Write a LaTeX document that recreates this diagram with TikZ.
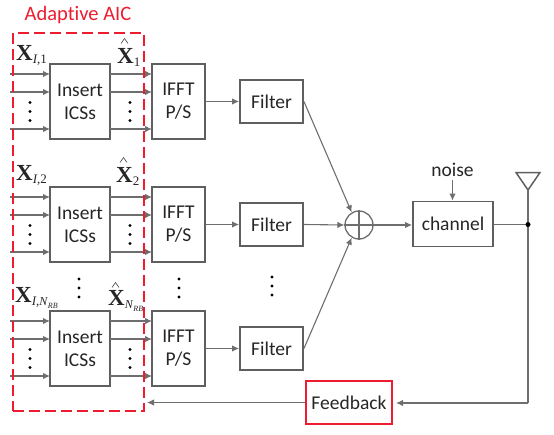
\documentclass[tikz,border=0pt]{standalone}
\usepackage{fontspec}
\setmainfont[Ligatures=NoCommon]{Carlito}
\newfontfamily\lsf{Liberation Serif}
\usetikzlibrary{arrows.meta}
\definecolor{ln}{HTML}{6E6E6E}
\definecolor{bx}{HTML}{5F5F5F}
\definecolor{rd}{HTML}{ED1C2E}
\newcommand{\xb}[1]{{\lsf\fontsize{23}{23}\selectfont\textbf{X}\raisebox{-3pt}{\fontsize{13}{13}\selectfont #1}}}
\newcommand{\nrb}{{\fontsize{12}{12}\selectfont\textit{N}}\raisebox{-3pt}{\fontsize{8}{8}\selectfont\textit{RB}}}
\tikzset{
  x=1pt,y=-1pt,
  every node/.style={font=\fontsize{19.5}{23}\selectfont,text=black!85,inner sep=0pt},
  blk/.style={draw=bx,line width=1.9pt,fill=white,align=center},
  conn/.style={draw=ln,line width=1.1pt},
  arr/.style={conn,-{Latex[length=7pt,width=6.5pt]}},
  thick arr/.style={arr,line width=1.7pt},
  vdots/.style={circle,fill=black,minimum size=3.2pt},
  lbl/.style={anchor=base west},
  hatmark/.style={draw=black!75,line width=0.6pt}
}
\begin{document}
\begin{tikzpicture}
\useasboundingbox (0,0) rectangle (554,434);
% blocks
\foreach \i/\t/\ta/\tb/\tc in {1/64/74/92/129,2/187/197/215/252,3/311/321/339/376}{
  \node[blk,minimum width=60pt,minimum height=75pt] (ins\i) at (80,\t+37.5) {Insert\\ICSs};
  \node[blk,minimum width=53pt,minimum height=75pt] (ifft\i) at (178.5,\t+37.5) {IFFT\\P/S};
  \foreach \n/\y in {a/\ta,b/\tb,c/\tc}{
    \coordinate (in\i\n) at (10,\y);
    \coordinate (ia\i\n) at (50,\y);
    \coordinate (ob\i\n) at (110,\y);
    \coordinate (oe\i\n) at (152,\y);
    \draw[arr] (ob\i\n) -- (oe\i\n);
  }
  \draw[thick arr] (in\i a) -- (ia\i a);
  \draw[arr] (in\i b) -- (ia\i b);
  \draw[arr] (in\i c) -- (ia\i c);
  \foreach \xx in {30,130}{
    \node[vdots] (dt\i\xx a) at (\xx,\t+38.5) {};
    \node[vdots] (dt\i\xx b) at (\xx,\t+47.5) {};
    \node[vdots] (dt\i\xx c) at (\xx,\t+56.5) {};
  }
}
\node[blk,minimum width=63pt,minimum height=43pt] (fil1) at (271.5,101.5) {Filter};
\node[blk,minimum width=63pt,minimum height=43pt] (fil2) at (271.5,224.5) {Filter};
\node[blk,minimum width=63pt,minimum height=43pt] (fil3) at (271.5,348.5) {Filter};
\foreach \i in {1,2,3}{ \draw[arr] (ifft\i.east |- fil\i) -- (fil\i.west); }
% sum
\node[circle,draw=ln,line width=1.3pt,minimum size=28pt] (sum) at (359,225) {};
\draw[ln,line width=1.3pt] (sum.north) -- (sum.south) (sum.west) -- (sum.east);
\draw[arr] (fil1.east) -- (sum.120);
\draw[arr] (fil2.east) -- (sum.west);
\draw[arr] (fil3.east) -- (sum.240);
% channel
\node[blk,minimum width=80pt,minimum height=45pt] (chan) at (453,224) {channel};
\draw[arr] (sum.east) -- (chan.west |- sum);
\node (noise) at (452.5,169.5) {noise};
\coordinate (ntop) at (452.5,180);
\draw[arr] (ntop) -- (chan.north -| ntop);
\coordinate (jun) at (528,224.5);
\draw[draw=ln,line width=1.6pt] (chan.east |- jun) -- (jun);
% antenna
\coordinate (ap) at (528,190);
\coordinate (al) at (516,172.5);
\coordinate (ar) at (540,172.5);
\draw[bx,line width=1.5pt] (al) -- (ar) -- (ap) -- cycle;
\coordinate (cor) at (528,403);
\node[draw=rd,line width=1.8pt,fill=white,minimum width=86pt,minimum height=43pt] (fb) at (349,402.5) {Feedback};
\coordinate (fbin) at (396,403);
\draw[conn] (ap) -- (cor);
\draw[arr] (cor) -- (fbin);
\node[circle,fill=black,minimum size=5pt] (dot) at (jun) {};
\coordinate (fbend) at (147,402.5);
\draw[arr] (fb.west) -- (fbend);
% dashed
\node[draw=rd,line width=1.5pt,dash pattern=on 11pt off 5pt,minimum width=131pt,minimum height=378pt] (aic) at (78.5,222) {};
\node[text=rd,font=\fontsize{20.5}{22}\selectfont] (title) at (78,15.5) {Adaptive AIC};
% dots between rows
\foreach \xx/\yy in {79/279,179/279,272/277}{
  \node[vdots] (m\xx a) at (\xx,\yy) {};
  \node[vdots] (m\xx b) at (\xx,\yy+9) {};
  \node[vdots] (m\xx c) at (\xx,\yy+18) {};
}
% labels
\node[lbl] (l1) at (16,60) {\xb{\textit{I},1}};
\node[lbl] (l2) at (16,180) {\xb{\textit{I},2}};
\node[lbl] (l3) at (15,302) {\xb{\textit{I},\nrb}};
\node[lbl] (h1) at (117,63) {\xb{1}};
\node[lbl] (h2) at (116,182) {\xb{2}};
\node[lbl] (h3) at (108,305) {\xb{\nrb}};
% hats over the X of the output labels
\foreach \hx/\hy in {124.5/38.5,123.5/157.5,115.5/282.5}{
  \draw[hatmark] (\hx-3.5,\hy+5) -- (\hx,\hy) -- (\hx+3.5,\hy+5);
}
\end{tikzpicture}
\end{document}
